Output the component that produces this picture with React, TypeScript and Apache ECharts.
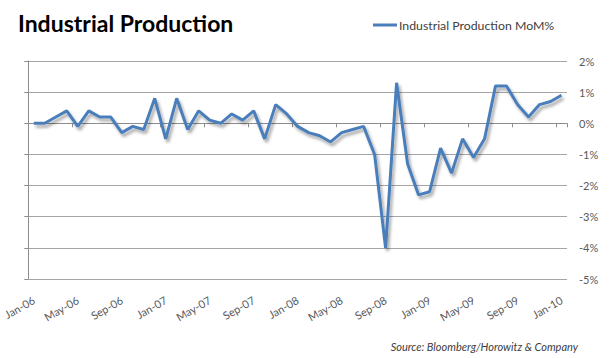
import React, { useEffect, useRef } from "react";
import * as echarts from "echarts";

const months: string[] = [
  "Jan-06", "Feb-06", "Mar-06", "Apr-06", "May-06", "Jun-06", "Jul-06", "Aug-06", "Sep-06", "Oct-06", "Nov-06", "Dec-06",
  "Jan-07", "Feb-07", "Mar-07", "Apr-07", "May-07", "Jun-07", "Jul-07", "Aug-07", "Sep-07", "Oct-07", "Nov-07", "Dec-07",
  "Jan-08", "Feb-08", "Mar-08", "Apr-08", "May-08", "Jun-08", "Jul-08", "Aug-08", "Sep-08", "Oct-08", "Nov-08", "Dec-08",
  "Jan-09", "Feb-09", "Mar-09", "Apr-09", "May-09", "Jun-09", "Jul-09", "Aug-09", "Sep-09", "Oct-09", "Nov-09", "Dec-09",
  "Jan-10",
];

const momValues: number[] = [
  0.0, 0.0, 0.2, 0.4, -0.1, 0.4, 0.2, 0.2, -0.3, -0.1, -0.2, 0.8,
  -0.5, 0.8, -0.2, 0.4, 0.1, 0.0, 0.3, 0.1, 0.4, -0.5, 0.6, 0.3,
  -0.1, -0.3, -0.4, -0.6, -0.3, -0.2, -0.1, -1.0, -4.0, 1.3, -1.3, -2.3,
  -2.2, -0.8, -1.6, -0.5, -1.1, -0.5, 1.2, 1.2, 0.6, 0.2, 0.6, 0.7,
  0.9,
];

const seriesName = "Industrial Production MoM%";
const titleText = "Industrial Production";
const sourceText = "Source: Bloomberg/Horowitz & Company";

const FONT = "Lato, 'Open Sans', sans-serif";
const LINE_BLUE = "#4a7ebb";
const GRID_GRAY = "#a6a6a6";
const TEXT_GRAY = "#595959";

export default function App() {
  const ref = useRef<HTMLDivElement>(null);
  useEffect(() => {
    if (!ref.current) return;
    const chart = echarts.init(ref.current, undefined, { renderer: "svg" });
    chart.setOption({
      animation: false,
      backgroundColor: "#ffffff",
      textStyle: { fontFamily: FONT },
      title: {
        text: titleText,
        left: 13,
        top: 6,
        textStyle: { fontFamily: FONT, fontSize: 23, fontWeight: "bold", color: "#000000" },
      },
      legend: {
        left: 373,
        top: 19,
        padding: 0,
        icon: "rect",
        itemWidth: 24,
        itemHeight: 3,
        itemGap: 2,
        textStyle: { fontFamily: FONT, fontSize: 12.3, color: "#404040", padding: [0, 0, 0, -3] },
        data: [{ name: seriesName, itemStyle: { color: LINE_BLUE } }],
      },
      grid: { left: 25, right: 43, top: 61, bottom: 79, containLabel: false },
      xAxis: [
        {
          type: "category",
          data: months,
          boundaryGap: true,
          position: "bottom",
          axisLine: { show: true, onZero: true, lineStyle: { color: "#8c8c8c", width: 1 } },
          axisTick: { show: true, interval: 3, length: 4, lineStyle: { color: "#8c8c8c" } },
          axisLabel: { show: false },
          splitLine: { show: false },
        },
        {
          type: "category",
          data: months,
          boundaryGap: true,
          position: "bottom",
          axisLine: { show: false, onZero: false },
          axisTick: { show: false },
          axisLabel: {
            show: true,
            interval: 3,
            rotate: 30,
            margin: 20,
            fontFamily: FONT,
            fontSize: 11,
            color: TEXT_GRAY,
          },
          splitLine: { show: false },
        },
      ],
      yAxis: [
        {
          type: "value",
          position: "left",
          min: -5,
          max: 2,
          interval: 1,
          axisLine: { show: true, lineStyle: { color: "#8c8c8c" } },
          axisTick: { show: true, length: 4, lineStyle: { color: "#8c8c8c" } },
          axisLabel: { show: false },
          splitLine: { show: true, lineStyle: { color: GRID_GRAY, width: 1 } },
        },
        {
          type: "value",
          position: "right",
          min: -5,
          max: 2,
          interval: 1,
          axisLine: { show: false },
          axisTick: { show: false },
          axisLabel: {
            show: true,
            margin: 12,
            formatter: "{value}%",
            fontFamily: FONT,
            fontSize: 11,
            color: TEXT_GRAY,
          },
          splitLine: { show: false },
        },
      ],
      series: [
        {
          name: seriesName,
          type: "line",
          xAxisIndex: 0,
          yAxisIndex: 0,
          data: momValues,
          symbol: "none",
          lineStyle: {
            color: LINE_BLUE,
            width: 3,
            shadowColor: "rgba(0,0,0,0.35)",
            shadowBlur: 3,
            shadowOffsetX: 2,
            shadowOffsetY: 3,
          },
          itemStyle: { color: LINE_BLUE },
        },
      ],
      graphic: [
        {
          type: "text",
          right: 32,
          top: 341,
          style: {
            text: sourceText,
            fontFamily: FONT,
            fontSize: 11,
            fontStyle: "italic",
            fill: "#404040",
          },
        },
      ],
    });
    return () => chart.dispose();
  }, []);
  return (
    <div
      ref={ref}
      style={{ position: "absolute", left: 0, top: 0, width: 610, height: 358 }}
    />
  );
}
